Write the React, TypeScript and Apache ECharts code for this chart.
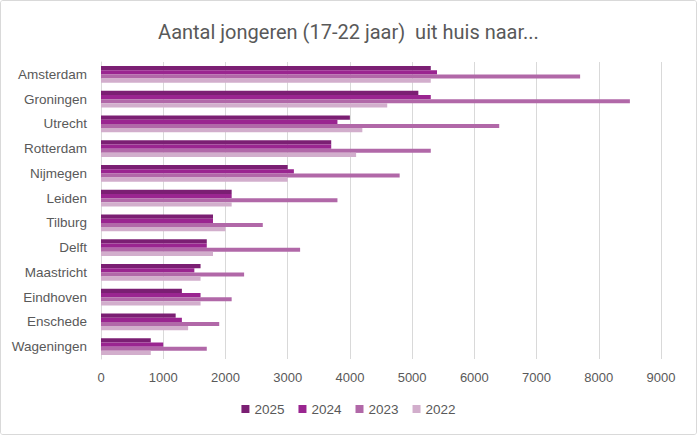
import React, { useEffect, useRef } from "react";
import * as echarts from "echarts";

const categories = [
  "Amsterdam", "Groningen", "Utrecht", "Rotterdam", "Nijmegen", "Leiden",
  "Tilburg", "Delft", "Maastricht", "Eindhoven", "Enschede", "Wageningen",
];
const seriesNames = ["2025", "2024", "2023", "2022"];
const values2025 = [5300, 5100, 4000, 3700, 3000, 2100, 1800, 1700, 1600, 1300, 1200, 800];
const values2024 = [5400, 5300, 3800, 3700, 3100, 2100, 1800, 1700, 1500, 1600, 1300, 1000];
const values2023 = [7700, 8500, 6400, 5300, 4800, 3800, 2600, 3200, 2300, 2100, 1900, 1700];
const values2022 = [5300, 4600, 4200, 4100, 3000, 2100, 2000, 1800, 1600, 1600, 1400, 800];
const colors = ["#7B1F73", "#9A2590", "#B168A8", "#D2AECC"];
const title = "Aantal jongeren (17-22 jaar)  uit huis naar...";

export default function App() {
  const ref = useRef<HTMLDivElement>(null);
  useEffect(() => {
    if (!ref.current) return;
    const chart = echarts.init(ref.current, undefined, { renderer: "svg" });
    const data = [values2025, values2024, values2023, values2022];
    chart.setOption({
      animation: false,
      backgroundColor: "#ffffff",
      title: {
        text: title,
        left: "center",
        top: 16,
        textStyle: {
          fontFamily: "Liberation Sans Narrow, Roboto, sans-serif",
          fontSize: 20,
          fontWeight: "normal",
          color: "#595959",
        },
      },
      legend: {
        data: seriesNames,
        bottom: 13,
        left: "center",
        icon: "rect",
        itemWidth: 8,
        itemHeight: 8,
        itemGap: 14,
        textStyle: { fontFamily: "Liberation Sans, Arial, sans-serif", fontSize: 13.5, color: "#595959" },
      },
      grid: { left: 100, right: 35, top: 61, bottom: 75 },
      xAxis: {
        type: "value",
        min: 0,
        max: 9000,
        interval: 1000,
        axisLine: { show: false },
        axisTick: { show: false },
        splitLine: { lineStyle: { color: "#D9D9D9", width: 1 } },
        axisLabel: {
          fontFamily: "Liberation Sans, Arial, sans-serif",
          fontSize: 13,
          color: "#595959",
          margin: 12,
          formatter: (v: number) => String(v),
        },
      },
      yAxis: {
        type: "category",
        data: categories,
        inverse: true,
        axisLine: { show: true, lineStyle: { color: "#D9D9D9" } },
        axisTick: { show: false },
        axisLabel: {
          fontFamily: "Liberation Sans, Arial, sans-serif",
          fontSize: 13.5,
          color: "#595959",
          margin: 14,
        },
      },
      series: seriesNames.map((name, i) => ({
        name,
        type: "bar",
        data: data[i],
        barGap: "0%",
        barCategoryGap: "33%",
        itemStyle: { color: colors[i] },
      })),
    });
    return () => chart.dispose();
  }, []);
  return (
    <div
      style={{
        position: "absolute",
        left: 0,
        top: 0,
        width: 697,
        height: 435,
        boxSizing: "border-box",
        border: "1.5px solid #D9D9D9",
        borderRadius: 3,
        overflow: "hidden",
        background: "#fff",
      }}
    >
      <div ref={ref} style={{ width: "100%", height: "100%" }} />
    </div>
  );
}
